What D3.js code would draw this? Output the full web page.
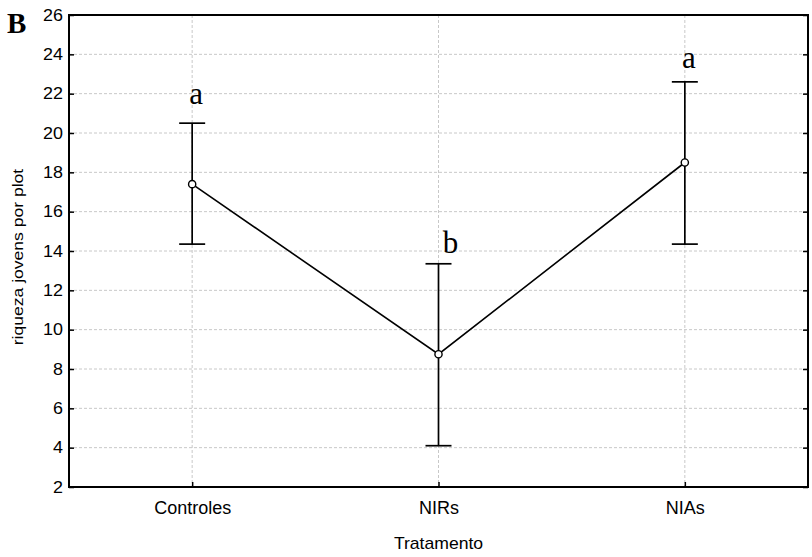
<!DOCTYPE html>
<html>
<head>
<meta charset="utf-8">
<script src="https://cdn.jsdelivr.net/npm/d3@7"></script>
<style>
  body { margin: 0; background: #fff; }
  svg { display: block; }
</style>
</head>
<body>
<script>
var categories = ["Controles", "NIRs", "NIAs"];
var means = [17.4, 8.75, 18.5];
var upper = [20.5, 13.35, 22.6];
var lower = [14.35, 4.1, 14.35];
var letters = ["a", "b", "a"];
var letterY = [21.5, 13.9, 23.3];
var yTicks = [2, 4, 6, 8, 10, 12, 14, 16, 18, 20, 22, 24, 26];

var width = 812, height = 557;
var margin = {top: 15, right: 4, bottom: 70, left: 69};
var w = width - margin.left - margin.right,
    h = height - margin.top - margin.bottom;
var sans = "'Liberation Sans', Arial, sans-serif",
    serif = "'Liberation Serif', 'Times New Roman', serif";

var svg = d3.select("body").append("svg")
    .attr("width", width)
    .attr("height", height);

var g = svg.append("g")
    .attr("transform", "translate(" + margin.left + "," + margin.top + ")");

var x = d3.scalePoint()
    .domain(categories)
    .range([0, w])
    .padding(0.5);

var y = d3.scaleLinear()
    .domain([2, 26])
    .range([h, 0]);

// grid
g.append("g").selectAll("line")
    .data(yTicks.slice(1, -1))
    .enter().append("line")
    .attr("x1", 0).attr("x2", w)
    .attr("y1", function(d) { return y(d); })
    .attr("y2", function(d) { return y(d); })
    .attr("stroke", "#c8c8c8")
    .attr("stroke-dasharray", "3,2");

g.append("g").selectAll("line")
    .data(categories)
    .enter().append("line")
    .attr("x1", function(d) { return x(d); })
    .attr("x2", function(d) { return x(d); })
    .attr("y1", 0).attr("y2", h)
    .attr("stroke", "#c8c8c8")
    .attr("stroke-dasharray", "3,2");

// axes, ticks point inward
var yAxis = g.append("g")
    .call(d3.axisLeft(y).tickValues(yTicks).tickSize(-5));
yAxis.selectAll("text")
    .attr("x", 0)
    .attr("transform", "translate(-6,0) scale(1.12,1)")
    .style("font-size", "16px").style("font-family", sans).attr("fill", "#000");

g.append("g")
    .attr("transform", "translate(" + w + ",0)")
    .call(d3.axisRight(y).tickValues(yTicks).tickSize(-5).tickFormat(""));

var xAxis = g.append("g")
    .attr("transform", "translate(0," + h + ")")
    .call(d3.axisBottom(x).tickSize(-5).tickPadding(14));
xAxis.selectAll("text").style("font-size", "18px").style("font-family", sans).attr("fill", "#000");

g.selectAll(".tick line").attr("stroke", "#000").attr("stroke-width", 1.5);
g.selectAll(".domain").remove();

g.append("rect")
    .attr("width", w).attr("height", h)
    .attr("fill", "none")
    .attr("stroke", "#000")
    .attr("stroke-width", 2);

// mean line
var line = d3.line()
    .x(function(d, i) { return x(categories[i]); })
    .y(function(d) { return y(d); });

g.append("path")
    .datum(means)
    .attr("d", line)
    .attr("fill", "none")
    .attr("stroke", "#000")
    .attr("stroke-width", 1.6);

// error bars
var bars = g.append("g").selectAll("g")
    .data(categories)
    .enter().append("g");

bars.append("line")
    .attr("x1", function(d) { return x(d); })
    .attr("x2", function(d) { return x(d); })
    .attr("y1", function(d, i) { return y(upper[i]); })
    .attr("y2", function(d, i) { return y(lower[i]); })
    .attr("stroke", "#000").attr("stroke-width", 1.7);

bars.append("line")
    .attr("x1", function(d) { return x(d) - 13; })
    .attr("x2", function(d) { return x(d) + 13; })
    .attr("y1", function(d, i) { return y(upper[i]); })
    .attr("y2", function(d, i) { return y(upper[i]); })
    .attr("stroke", "#000").attr("stroke-width", 1.7);

bars.append("line")
    .attr("x1", function(d) { return x(d) - 13; })
    .attr("x2", function(d) { return x(d) + 13; })
    .attr("y1", function(d, i) { return y(lower[i]); })
    .attr("y2", function(d, i) { return y(lower[i]); })
    .attr("stroke", "#000").attr("stroke-width", 1.7);

bars.append("circle")
    .attr("cx", function(d) { return x(d); })
    .attr("cy", function(d, i) { return y(means[i]); })
    .attr("r", 3.6)
    .attr("fill", "#fff")
    .attr("stroke", "#000")
    .attr("stroke-width", 1.4);

// significance letters
g.append("g").selectAll("text")
    .data(categories)
    .enter().append("text")
    .attr("x", function(d, i) { return x(d) + (i == 1 ? 12 : 4); })
    .attr("y", function(d, i) { return y(letterY[i]); })
    .attr("text-anchor", "middle")
    .style("font-family", serif)
    .style("font-size", "31px")
    .text(function(d, i) { return letters[i]; });

// titles
svg.append("text")
    .attr("transform", "translate(" + (margin.left + w / 2) + ",549) scale(1.1,1)")
    .attr("text-anchor", "middle")
    .style("font-family", sans)
    .style("font-size", "16px")
    .text("Tratamento");

svg.append("text")
    .attr("transform", "translate(23,257) rotate(-90) scale(1.17,1)")
    .attr("text-anchor", "middle")
    .style("font-family", sans)
    .style("font-size", "15px")
    .text("riqueza jovens por plot");

svg.append("text")
    .attr("x", 7)
    .attr("y", 33)
    .style("font-family", serif)
    .style("font-weight", "bold")
    .style("font-size", "29px")
    .text("B");
</script>
</body>
</html>
